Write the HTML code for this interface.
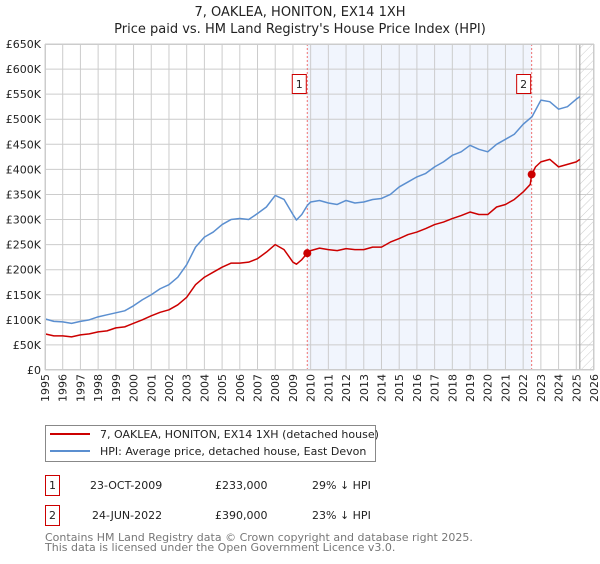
<!DOCTYPE html>
<html><head><meta charset="utf-8"><style>
body{margin:0;background:#fff;font-family:"DejaVu Sans","Liberation Sans",sans-serif;}
svg text{font-family:"DejaVu Sans","Liberation Sans",sans-serif;}
</style></head><body>
<svg id="c" width="600" height="560" xmlns="http://www.w3.org/2000/svg">
<defs><pattern id="hatch" width="6" height="6" patternUnits="userSpaceOnUse" patternTransform="rotate(45)"><line x1="0" y1="0" x2="0" y2="6" stroke="#ccc" stroke-width="1"/></pattern></defs>
<text x="300" y="16" text-anchor="middle" font-size="13" fill="#222">7, OAKLEA, HONITON, EX14 1XH</text>
<text x="300" y="33" text-anchor="middle" font-size="13" fill="#222">Price paid vs. HM Land Registry's House Price Index (HPI)</text>
<g id="plot"></g>
<g>
<rect x="45.5" y="425.5" width="330" height="36" fill="#fff" stroke="#888"/>
<line x1="50" y1="434" x2="90" y2="434" stroke="#cc0000" stroke-width="2"/>
<text x="100" y="438" font-size="11" fill="#222">7, OAKLEA, HONITON, EX14 1XH (detached house)</text>
<line x1="50" y1="451" x2="90" y2="451" stroke="#5b8fd0" stroke-width="2"/>
<text x="100" y="455" font-size="11" fill="#222">HPI: Average price, detached house, East Devon</text>
</g>
<g font-size="11" fill="#222">
<rect x="45.5" y="475.5" width="14" height="20" fill="#fff" stroke="#cc0000"/>
<text x="52.5" y="489" text-anchor="middle">1</text>
<text x="90" y="489">23-OCT-2009</text><text x="215" y="489">£233,000</text><text x="312" y="489">29% ↓ HPI</text>
<rect x="45.5" y="505.5" width="14" height="20" fill="#fff" stroke="#cc0000"/>
<text x="52.5" y="519" text-anchor="middle">2</text>
<text x="92" y="519">24-JUN-2022</text><text x="215" y="519">£390,000</text><text x="312" y="519">23% ↓ HPI</text>
</g>
<text x="45" y="541" font-size="11" fill="#777">Contains HM Land Registry data © Crown copyright and database right 2025.</text>
<text x="45" y="551" font-size="11" fill="#777">This data is licensed under the Open Government Licence v3.0.</text>
</svg>
<script>
const yTicks=[0,50,100,150,200,250,300,350,400,450,500,550,600,650];
const yTickLabels=["£0","£50K","£100K","£150K","£200K","£250K","£300K","£350K","£400K","£450K","£500K","£550K","£600K","£650K"];
const years=[1995,1996,1997,1998,1999,2000,2001,2002,2003,2004,2005,2006,2007,2008,2009,2010,2011,2012,2013,2014,2015,2016,2017,2018,2019,2020,2021,2022,2023,2024,2025,2026];
const hpiDates=[1995,1995.5,1996,1996.5,1997,1997.5,1998,1998.5,1999,1999.5,2000,2000.5,2001,2001.5,2002,2002.5,2003,2003.5,2004,2004.5,2005,2005.5,2006,2006.5,2007,2007.5,2008,2008.5,2009,2009.2,2009.5,2009.81,2010,2010.5,2011,2011.5,2012,2012.5,2013,2013.5,2014,2014.5,2015,2015.5,2016,2016.5,2017,2017.5,2018,2018.5,2019,2019.5,2020,2020.5,2021,2021.5,2022,2022.5,2023,2023.5,2024,2024.5,2025,2025.2];
const hpiValues=[102,97,96,93,97,100,106,110,114,118,128,140,150,162,170,185,210,245,265,275,290,300,302,300,312,325,348,340,310,299,310,328,335,338,333,330,338,333,335,340,342,350,365,375,385,392,405,415,428,435,448,440,435,450,460,470,490,505,538,535,520,525,540,545];
const propDates=[1995,1995.5,1996,1996.5,1997,1997.5,1998,1998.5,1999,1999.5,2000,2000.5,2001,2001.5,2002,2002.5,2003,2003.5,2004,2004.5,2005,2005.5,2006,2006.5,2007,2007.5,2008,2008.5,2009,2009.2,2009.5,2009.81,2010,2010.5,2011,2011.5,2012,2012.5,2013,2013.5,2014,2014.5,2015,2015.5,2016,2016.5,2017,2017.5,2018,2018.5,2019,2019.5,2020,2020.5,2021,2021.5,2022,2022.4,2022.48,2022.7,2023,2023.5,2024,2024.5,2025,2025.2];
const propValues=[72,68,68,66,70,72,76,78,84,86,93,100,108,115,120,130,145,170,185,195,205,213,213,215,222,235,250,240,215,211,220,233,238,243,240,238,242,240,240,245,245,255,262,270,275,282,290,295,302,308,315,310,310,325,330,340,355,370,390,405,415,420,405,410,415,420];
const saleDates=[2009.81,2022.48];
const saleValues=[233,390];
const saleLabels=["1","2"];
const X0=45,X1=594,Y0=370,Y1=44,xmin=1995,xmax=2026,ymax=650;
const xs=v=>X0+(v-xmin)/(xmax-xmin)*(X1-X0);
const ys=v=>Y0-v/ymax*(Y0-Y1);
const NS="http://www.w3.org/2000/svg";
const g=document.getElementById('plot');
function mk(t,a,p){const e=document.createElementNS(NS,t);for(const k in a)e.setAttribute(k,a[k]);(p||g).appendChild(e);return e;}
const bg=mk('rect',{x:X0,y:Y1,width:X1-X0,height:Y0-Y1,fill:'#fff'});


const sh=mk('rect',{x:xs(saleDates[0]),y:Y1,width:xs(saleDates[1])-xs(saleDates[0]),height:Y0-Y1,fill:'#eef3fd',opacity:0.8});


const ht=mk('rect',{x:xs(2025.2),y:Y1,width:X1-xs(2025.2),height:Y0-Y1,fill:'url(#hatch)'});


yTicks.forEach((t,i)=>{
 const l=mk('line',{x1:X0,x2:X1,y1:ys(t),y2:ys(t),stroke:'#ccc','stroke-width':1});
 
 
 const tx=mk('text',{x:X0-4,y:ys(t)+4,'text-anchor':'end','font-size':11,fill:'#222'});
 tx.textContent=yTickLabels[i];
 
 
});
years.forEach(yr=>{
 const l=mk('line',{x1:xs(yr),x2:xs(yr),y1:Y1,y2:Y0,stroke:'#ccc','stroke-width':1});
 
 
 const tx=mk('text',{x:0,y:0,'text-anchor':'end','font-size':11,fill:'#222',transform:`translate(${xs(yr)+4},${Y0+4}) rotate(-90)`});
 tx.textContent=yr;
 
 
});
const nowL=mk('line',{x1:xs(2025.2),x2:xs(2025.2),y1:Y1,y2:Y0,stroke:'#999','stroke-width':1});


saleDates.forEach((d,i)=>{
 const l=mk('line',{x1:xs(d),x2:xs(d),y1:Y1,y2:Y0,stroke:'#f07070','stroke-width':1,'stroke-dasharray':'2,2'});
 
 
});
function line(ds,vs,col,name){
 const p=mk('polyline',{points:ds.map((d,i)=>xs(d)+','+ys(vs[i])).join(' '),fill:'none',stroke:col,'stroke-width':1.5,'stroke-linejoin':'round'});
 
 
}
line(hpiDates,hpiValues,'#5b8fd0','hpi-line');
line(propDates,propValues,'#cc0000','property-line');
saleDates.forEach((d,i)=>{
 const c=mk('circle',{cx:xs(d),cy:ys(saleValues[i]),r:4,fill:'#cc0000'});
 
 
 const bx=xs(d)-15;
 const r=mk('rect',{x:bx,y:74.5,width:14,height:19,fill:'#fff',stroke:'#cc0000'});
 
 
 const t=mk('text',{x:bx+7,y:88,'text-anchor':'middle','font-size':11,fill:'#222'});
 t.textContent=saleLabels[i];
 
 
});
const fr=mk('rect',{x:X0+0.5,y:Y1+0.5,width:X1-X0-1,height:Y0-Y1-1,fill:'none',stroke:'#ccc'});


</script>
</body></html>
